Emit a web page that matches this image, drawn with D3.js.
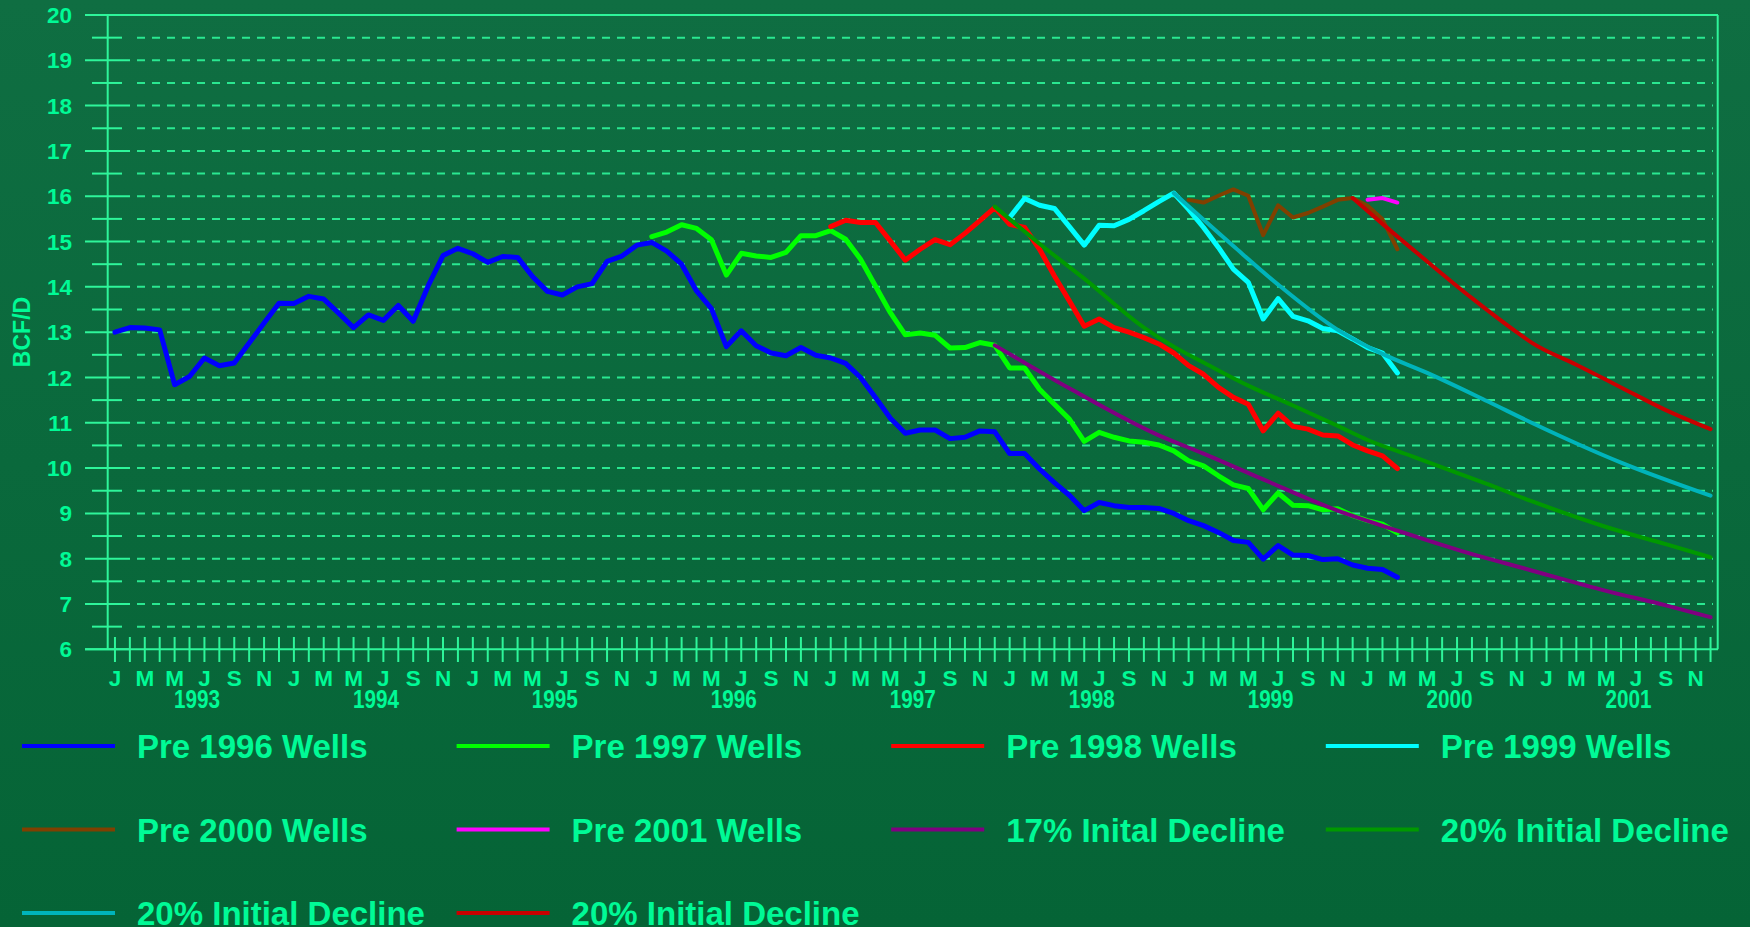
<!DOCTYPE html>
<html>
  <head>
    <meta charset="UTF-8" />
    <title>Gas production decline</title>
    <style>
      body { margin: 0; background: #0a6a3d; }
      text { font-family: "Liberation Sans", Arial, sans-serif; }
    </style>
    <script src="https://d3js.org/d3.v7.min.js"></script>
  </head>
  <body>
    <svg id="viz" width="1750" height="927"></svg>
    <script type="text/javascript">
      // month index 0 = Jan 1993, 107 = Dec 2001
      var monthLetters = ["J", "M", "M", "J", "S", "N"];
      var years = [1993, 1994, 1995, 1996, 1997, 1998, 1999, 2000, 2001];
      var yTicks = [6, 7, 8, 9, 10, 11, 12, 13, 14, 15, 16, 17, 18, 19, 20];

      // monthly series: first month index + values (BCF/D)
      var pre1996Start = 0;
      var pre1996 = [13.0, 13.1, 13.09, 13.05, 11.84, 12.02, 12.43, 12.26, 12.32, 12.76,
        13.2, 13.64, 13.63, 13.79, 13.73, 13.42, 13.1, 13.38, 13.26, 13.59,
        13.24, 14.02, 14.69, 14.85, 14.73, 14.54, 14.67, 14.65, 14.23, 13.9,
        13.82, 14.0, 14.07, 14.56, 14.68, 14.92, 14.98, 14.79, 14.5, 13.91,
        13.52, 12.68, 13.03, 12.7, 12.54, 12.48, 12.66, 12.49, 12.43, 12.31,
        12.0, 11.56, 11.1, 10.77, 10.84, 10.84, 10.65, 10.68, 10.82, 10.8,
        10.32, 10.32, 9.98, 9.68, 9.4, 9.06, 9.24, 9.17, 9.13, 9.13,
        9.11, 9.0, 8.84, 8.73, 8.58, 8.4, 8.36, 7.99, 8.29, 8.08,
        8.07, 7.98, 8.0, 7.86, 7.79, 7.76, 7.59];
      var pre1997Start = 36;
      var pre1997 = [15.11, 15.21, 15.37, 15.29, 15.04, 14.26, 14.74, 14.68, 14.65, 14.76,
        15.13, 15.13, 15.24, 15.05, 14.61, 14.02, 13.43, 12.94, 12.98, 12.93,
        12.65, 12.66, 12.77, 12.71, 12.21, 12.21, 11.74, 11.41, 11.08, 10.59,
        10.79, 10.68, 10.6, 10.57, 10.51, 10.38, 10.16, 10.05, 9.83, 9.63,
        9.55, 9.08, 9.45, 9.18, 9.17, 9.08, 9.1, 8.95, 8.84, 8.76, 8.57];
      var pre1998Start = 48;
      var pre1998 = [15.33, 15.47, 15.42, 15.42, 15.01, 14.59, 14.83, 15.04, 14.93, 15.18,
        15.46, 15.75, 15.38, 15.31, 14.83, 14.24, 13.69, 13.13, 13.29, 13.1,
        13.0, 12.88, 12.74, 12.54, 12.26, 12.07, 11.78, 11.56, 11.41, 10.82,
        11.21, 10.92, 10.86, 10.73, 10.71, 10.51, 10.38, 10.27, 9.99];
      var pre1999Start = 60;
      var pre1999 = [15.53, 15.95, 15.8, 15.73, 15.33, 14.92, 15.36, 15.35, 15.49, 15.68,
        15.88, 16.07, 15.71, 15.31, 14.87, 14.39, 14.1, 13.29, 13.74, 13.35,
        13.25, 13.08, 13.03, 12.85, 12.66, 12.54, 12.1];
      var pre2000Start = 72;
      var pre2000 = [15.92, 15.86, 16.01, 16.15, 16.01, 15.14, 15.8, 15.53, 15.63, 15.77,
        15.92, 15.96, 15.79, 15.49, 14.83];
      var pre2001Start = 84;
      var pre2001 = [15.92, 15.96, 15.86];

      // decline curves: [month index, value]
      var decline17 = [[59, 12.71], [64, 11.76], [70, 10.72], [73, 10.32], [77, 9.75],
        [82, 9.06], [86, 8.62], [90, 8.2], [95, 7.74], [100, 7.29], [104, 6.97], [107, 6.71]];
      var decline20a = [[59, 15.77], [62, 14.95], [65, 14.18], [69, 13.1], [71, 12.68],
        [73, 12.33], [76, 11.82], [79, 11.38], [82, 10.93], [84, 10.62], [87, 10.26],
        [92, 9.65], [95, 9.27], [100, 8.7], [104, 8.32], [107, 8.03]];
      var decline20b = [[71, 16.07], [75, 14.9], [78, 14.05], [82, 13.05], [85, 12.52],
        [88, 12.1], [92, 11.48], [95, 11.0], [101, 10.12], [107, 9.39]];
      var decline20c = [[83, 15.96], [85, 15.39], [88, 14.56], [91, 13.75], [94, 13.0],
        [95, 12.77], [98, 12.28], [101, 11.78], [104, 11.28], [107, 10.86]];

      function monthly(start, vals) {
        return vals.map((v, k) => [start + k, v]);
      }

      var series = [
        { name: "Pre 1996 Wells", color: "#0000ff", w: 5, pts: monthly(pre1996Start, pre1996), smooth: false },
        { name: "Pre 1997 Wells", color: "#00ff00", w: 5, pts: monthly(pre1997Start, pre1997), smooth: false },
        { name: "Pre 1998 Wells", color: "#ff0000", w: 5, pts: monthly(pre1998Start, pre1998), smooth: false },
        { name: "Pre 1999 Wells", color: "#00ffff", w: 5, pts: monthly(pre1999Start, pre1999), smooth: false },
        { name: "Pre 2000 Wells", color: "#804000", w: 4, pts: monthly(pre2000Start, pre2000), smooth: false },
        { name: "Pre 2001 Wells", color: "#ff00ff", w: 4, pts: monthly(pre2001Start, pre2001), smooth: false },
        { name: "17% Inital Decline", color: "#800080", w: 4, pts: decline17, smooth: true },
        { name: "20% Initial Decline", color: "#009900", w: 4, pts: decline20a, smooth: true },
        { name: "20% Initial Decline", color: "#00b4bb", w: 4, pts: decline20b, smooth: true },
        { name: "20% Initial Decline", color: "#c80000", w: 4, pts: decline20c, smooth: true },
      ];

      var textColor = "#00fa96";
      var axisColor = "#2ef59a";
      var gridColor = "#2ae891";

      var svg = d3.select("#viz");

      var grad = svg.append("defs").append("linearGradient")
        .attr("id", "bg").attr("x1", 0).attr("y1", 0).attr("x2", 0).attr("y2", 1);
      grad.append("stop").attr("offset", "0%").attr("stop-color", "#0f6e42");
      grad.append("stop").attr("offset", "100%").attr("stop-color", "#056436");
      svg.append("rect").attr("width", 1750).attr("height", 927).attr("fill", "url(#bg)");

      var x = d3.scaleLinear().domain([-0.5, 107.5]).range([107.5, 1718]);
      var y = d3.scaleLinear().domain([6, 20]).range([649.3, 15]);

      // gridlines every half unit
      var halves = d3.range(6.5, 20, 0.5);
      svg.append("g").selectAll("line").data(halves).join("line")
        .attr("x1", 137).attr("x2", 1713)
        .attr("y1", (d) => y(d)).attr("y2", (d) => y(d))
        .attr("stroke", gridColor).attr("stroke-width", 2)
        .attr("stroke-dasharray", "8,7");

      // y ticks: long at whole numbers, short at halves
      svg.append("g").selectAll("line").data(d3.range(6, 20.01, 0.5)).join("line")
        .attr("x1", (d) => (d % 1 === 0 ? 85 : 92))
        .attr("x2", (d) => (d % 1 === 0 ? 130 : 122))
        .attr("y1", (d) => y(d)).attr("y2", (d) => y(d))
        .attr("stroke", axisColor).attr("stroke-width", 2);

      svg.append("g").selectAll("text").data(yTicks).join("text")
        .attr("x", 72).attr("y", (d) => y(d)).attr("dy", "0.36em")
        .attr("text-anchor", "end")
        .attr("font-size", 22.5).attr("font-weight", "bold")
        .attr("fill", textColor).text((d) => d);

      // frame: top, bottom, left, right
      svg.append("line").attr("x1", 85).attr("x2", 1718).attr("y1", y(20)).attr("y2", y(20))
        .attr("stroke", axisColor).attr("stroke-width", 2);
      svg.append("line").attr("x1", 85).attr("x2", 1718).attr("y1", y(6)).attr("y2", y(6))
        .attr("stroke", axisColor).attr("stroke-width", 2);
      svg.append("line").attr("x1", 107.7).attr("x2", 107.7).attr("y1", y(20)).attr("y2", y(6))
        .attr("stroke", axisColor).attr("stroke-width", 2);
      svg.append("line").attr("x1", 1717.7).attr("x2", 1717.7).attr("y1", y(20)).attr("y2", y(6))
        .attr("stroke", axisColor).attr("stroke-width", 2);

      // month ticks
      var months = d3.range(0, 108);
      svg.append("g").selectAll("line").data(months).join("line")
        .attr("x1", (d) => x(d)).attr("x2", (d) => x(d))
        .attr("y1", 637).attr("y2", 662)
        .attr("stroke", axisColor).attr("stroke-width", 2);

      svg.append("g").selectAll("text").data(months.filter((m) => m % 2 === 0)).join("text")
        .attr("x", (d) => x(d)).attr("y", 686)
        .attr("text-anchor", "middle")
        .attr("font-size", 22.5).attr("font-weight", "bold")
        .attr("fill", textColor)
        .text((d) => monthLetters[(d % 12) / 2]);

      svg.append("g").selectAll("text").data(years).join("text")
        .attr("x", (d, k) => x(k * 12 + 5.5) - 23).attr("y", 708)
        .attr("font-family", "'Liberation Serif', 'Times New Roman', serif")
        .attr("font-size", 25).attr("font-weight", "bold")
        .attr("textLength", 46).attr("lengthAdjust", "spacingAndGlyphs")
        .attr("fill", textColor).text((d) => d);

      svg.append("text")
        .attr("transform", "translate(30,332) rotate(-90)")
        .attr("text-anchor", "middle")
        .attr("font-size", 23).attr("font-weight", "bold")
        .attr("fill", textColor).text("BCF/D");

      // the lines
      var plain = d3.line().x((d) => x(d[0])).y((d) => y(d[1]));
      var smooth = d3.line().x((d) => x(d[0])).y((d) => y(d[1])).curve(d3.curveMonotoneX);

      svg.append("g").selectAll("path").data(series).join("path")
        .attr("d", (s) => (s.smooth ? smooth(s.pts) : plain(s.pts)))
        .attr("fill", "none")
        .attr("stroke", (s) => s.color)
        .attr("stroke-width", (s) => s.w)
        .attr("stroke-linejoin", "round")
        .attr("stroke-linecap", "round");

      // legend, 4 per row
      var leg = svg.append("g").selectAll("g").data(series).join("g")
        .attr("transform", (s, k) => "translate(" + (22 + (k % 4) * 434.6) + "," + (746 + Math.floor(k / 4) * 83.5) + ")");
      leg.append("line").attr("x1", 0).attr("x2", 93).attr("y1", 0).attr("y2", 0)
        .attr("stroke", (s) => s.color).attr("stroke-width", 4);
      leg.append("text").attr("x", 115).attr("y", 12)
        .attr("font-size", 33).attr("font-weight", "bold")
        .attr("fill", textColor).text((s) => s.name);
    </script>
  </body>
</html>
